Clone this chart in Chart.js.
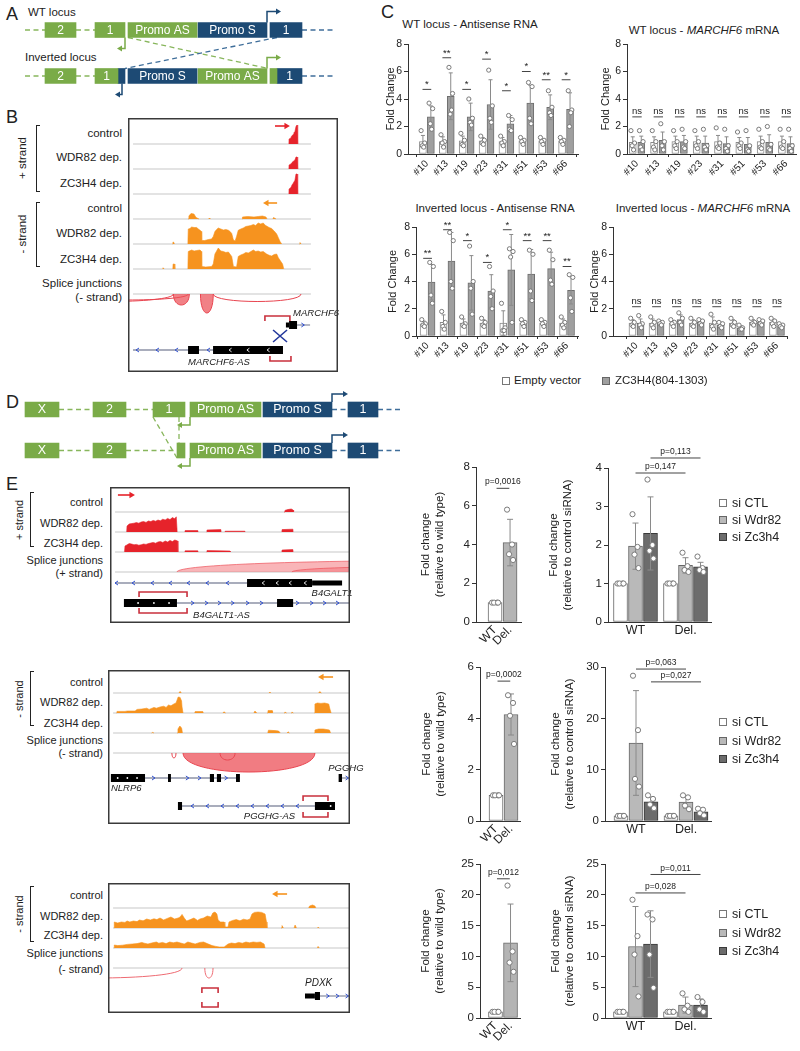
<!DOCTYPE html>
<html><head><meta charset="utf-8">
<script src="https://cdn.jsdelivr.net/npm/chart.js@4.4.1/dist/chart.umd.min.js"></script>
<style>
html,body{margin:0;padding:0;background:#fff;}
#page{position:relative;width:800px;height:1051px;overflow:hidden;background:#fff;font-family:"Liberation Sans",Arial,Helvetica,sans-serif;color:#222;}
#page canvas{position:absolute;}
.t{position:absolute;white-space:nowrap;line-height:1;}
.br{position:absolute;border:1.4px solid #222;border-right:none;width:4px;box-sizing:border-box;}
.sw{position:absolute;width:8px;height:8px;box-sizing:border-box;border:1px solid #666;}
</style></head>
<body><div id="page"></div>
<script>
// ======================= DATA =======================
// ---- Panel A / D schematics: [start, end, label, colour-key]
const A_WT_BOXES  = [[45,76,'2','g'],[95,125,'1','g'],[128,197,'Promo AS','g'],[198,267,'Promo S','b'],[270,302,'1','b']];
const A_INV_BOXES = [[45,76,'2','g'],[95,118,'1','g'],[118,125,'','b'],[128,197,'Promo S','b'],[198,267,'Promo AS','g'],[270,277,'','g'],[277,302,'1','b']];
const A_WT_DASH   = [[25,45,'g'],[76,95,'g'],[302,335,'b']];
const A_INV_DASH  = [[25,45,'g'],[76,95,'g'],[302,335,'b']];
const A_TSS       = [[267,0,-1,14,'b'],[125,0,1,-8,'g'],[267,1,-1,14,'g'],[122,1,1,-7,'b']];
const A_LINKS     = [[128,0,1,268,1,-1,'g'],[277,0,1,125,1,-1,'b']];
const D_R1_BOXES  = [[25,59,'X','g'],[93,126,'2','g'],[153,185,'1','g'],[190,261,'Promo AS','g'],[263,332,'Promo S','b'],[348,378,'1','b']];
const D_R2_BOXES  = [[25,59,'X','g'],[93,126,'2','g'],[177,185,'','g'],[190,261,'Promo AS','g'],[263,332,'Promo S','b'],[348,378,'1','b']];
const D_R1_DASH   = [[59,93,'g'],[126,153,'g'],[332,348,'b'],[378,400,'b']];
const D_R2_DASH   = [[59,93,'g'],[126,177,'g'],[332,348,'b'],[378,400,'b']];
const D_TSS       = [[332,0,-1,16,'b'],[190,0,1,-13,'g'],[332,1,-1,16,'b'],[190,1,1,-13,'g']];
const D_LINKS     = [[153,0,1,177,1,1,'g'],[179,0,1,179,1,-1,'g']];

// ---- Panel B browser (x 0-100 genomic, heights in track units)
const B_PLUS_CTRL = [[76.6,0],[76.7,0.2],[77.6,0.24],[77.8,0.3],[78.6,0.38],[79.0,0.45],[79.5,0.5],[80.0,0.7],[80.5,0.76],[80.8,0]];
const B_PLUS_WDR  = [[76.6,0],[76.7,0.16],[77.6,0.2],[78.1,0.26],[78.6,0.3],[79.5,0.36],[80.0,0.48],[80.5,0.48],[80.8,0]];
const B_PLUS_ZC   = [[76.6,0],[76.7,0.2],[77.6,0.26],[78.1,0.36],[78.6,0.42],[79.5,0.55],[80.0,0.8],[80.5,0.8],[80.8,0]];
const B_MIN_CTRL  = [[28.6,0],[29,0.12],[30,0.22],[31.4,0.2],[32.4,0.06],[33.8,0],[38.5,0],[38.6,0.04],[39,0],[54.3,0],[54.5,0.08],[57,0.1],[60,0.08],[62,0.1],[64,0.12],[65.7,0.08],[66.2,0],[69,0],[69.3,0.06],[70.5,0]];
const B_MIN_WDR   = [[21.2,0],[21.4,0.08],[21.9,0.06],[22.1,0],[28.5,0],[28.7,0.6],[29.5,0.62],[30.3,0.68],[31.5,0.66],[32.7,0.66],[33.5,0.6],[34.3,0.55],[35.0,0.5],[35.1,0.14],[36.5,0.14],[38.3,0.18],[39.8,0.2],[40.6,0.3],[41.4,0.5],[42.2,0.58],[43,0.64],[44.2,0.6],[45.4,0.56],[46.6,0.58],[47.8,0.55],[48.6,0.5],[49.4,0.42],[50.2,0.16],[51,0.12],[51.7,0.3],[52.5,0.55],[53.7,0.6],[54.9,0.64],[56.1,0.7],[57.3,0.72],[58.5,0.74],[59.7,0.78],[60.8,0.74],[62,0.84],[63.2,0.8],[64.4,0.84],[65.2,0.76],[66,0.72],[67.2,0.66],[68.4,0.62],[69.6,0.52],[70.8,0.4],[71.6,0.25],[72.4,0.1],[73.2,0],[81.6,0],[81.9,0.06],[82.4,0]];
const B_MIN_ZC    = [[16.5,0],[16.7,0.05],[17.2,0],[21.3,0],[21.5,0.2],[22.1,0.2],[22.3,0],[28.5,0],[28.7,0.7],[30.3,0.76],[31.5,0.72],[32.7,0.74],[34.3,0.76],[35.0,0.7],[35.1,0.1],[37,0.08],[39.8,0.1],[40.6,0.2],[41.4,0.6],[43,0.84],[44.2,0.72],[45.4,0.7],[46.6,0.66],[47.8,0.68],[49.4,0.5],[50.2,0.1],[51.7,0.08],[52.5,0.5],[53.7,0.56],[54.9,0.6],[56.1,0.66],[57.3,0.64],[58.5,0.7],[59.7,0.76],[60.8,0.7],[62,0.72],[63.2,0.68],[64.4,0.7],[66,0.6],[67.2,0.55],[68.4,0.52],[69.6,0.58],[70.8,0.6],[71.6,0.45],[72.4,0.35],[73.6,0.2],[74.2,0]];
const B_JUNCTIONS = [[-40,21.6,0.3,0],[-30,28.7,0.24,0],[21.6,29.2,0.44,1],[34.5,40.6,0.76,1],[40.6,82.4,0.3,0]];
const B_GENES = [
  {name:'MARCHF6', y:8.24, line:[80.5,86.7], exons:[[76.7,80.5]], utr:[[75.2,76.7]], arrows:[83.5], dir:1, chev:[], dots:[]},
  {name:'MARCHF6-AS', y:9.24, line:[2.4,73.8], exons:[[28.6,33.8],[40.5,73.8]], utr:[], arrows:[4.3,13.8,22.9,38.1], dir:-1, chev:[48.6,57.1,66.7], dots:[]}
];
const B_BRACKETS = [[65.2,77.1,7.88,'down'],[67.6,77.6,9.68,'up']];

// ---- Panel E browsers
const E1_CTRL = [[72.5,0],[72.9,0.08],[74,0.12],[75.5,0.15],[76.3,0.1],[76.5,0]];
const E1_WDR  = [[6.9,0],[7.1,0.3],[8,0.4],[9,0.42],[10,0.44],[11,0.47],[12,0.44],[13,0.5],[14,0.52],[15,0.48],[16,0.55],[17,0.52],[18,0.58],[19,0.54],[20,0.6],[21,0.56],[22,0.64],[23,0.6],[24,0.68],[25,0.62],[26,0.72],[27,0.66],[27.6,0.76],[27.9,0.76],[28,0],[31.2,0],[31.3,0.07],[36.6,0.07],[36.7,0],[40.3,0],[40.4,0.1],[46.2,0.12],[46.3,0],[47.9,0],[48,0.04],[56.2,0.04],[56.3,0],[71.6,0],[71.7,0.12],[76.2,0.14],[76.3,0]];
const E1_ZC   = [[6,0],[6.25,0.3],[7,0.35],[8,0.42],[9,0.4],[10,0.36],[11,0.38],[12,0.34],[13,0.36],[14,0.4],[15,0.38],[16,0.42],[17,0.45],[18,0.48],[19,0.44],[20,0.5],[21,0.52],[22,0.48],[23,0.55],[24,0.5],[25,0.58],[26,0.52],[27,0.6],[28.2,0.55],[28.3,0],[31.2,0],[31.3,0.06],[36.6,0.06],[36.7,0],[40.3,0],[40.4,0.07],[50,0.05],[50.1,0],[71.6,0],[71.7,0.1],[76.2,0.12],[76.3,0]];
const E1_JUNCTIONS = [[27.9,260,-0.58,1],[75.8,220,-0.3,1]];
const E1_GENES = [
  {name:'B4GALT1', y:4.55, line:[2.1,57.1], exons:[[57.1,84.2]], utr:[[84.2,96.7]], arrows:[2.5,9.6,17.5,25,32.5,40.4,48.8], dir:-1, chev:[63.8,69.6,75,81.3], dots:[]},
  {name:'B4GALT1-AS', y:5.55, line:[27.9,100], exons:[[5.8,27.9],[69.6,76.3]], utr:[], arrows:[34.6,40.4,45.8,51.3,57.5,63.3,78.3,84.2,89.6,95], dir:1, chev:[], dots:[11.7,18.3,24.6]}
];
const E1_BRACKETS = [[12.1,32.1,5.0,'down'],[12.1,32.1,6.05,'up']];

const E2_CTRL = [[29.3,0],[29.8,0.08],[30.3,0],[66.5,0],[66.9,0.05],[67.3,0],[87,0],[87.5,0.07],[88.2,0]];
const E2_WDR  = [[3.5,0],[3.7,0.08],[7,0.08],[8,0.1],[11.2,0.1],[12,0.18],[14,0.2],[16,0.24],[17,0.18],[19,0.28],[20,0.24],[21.5,0.3],[23,0.34],[24,0.28],[25,0.4],[26,0.36],[27.2,0.45],[28.1,0.5],[29,0.8],[29.8,0.78],[30.4,0.6],[30.6,0.3],[31,0],[35.8,0],[36,0.07],[39.2,0.07],[39.4,0],[47.5,0],[47.9,0.06],[48.6,0],[60.3,0],[60.7,0.1],[61.5,0],[65.8,0],[66.1,0.12],[67.8,0.12],[68,0],[72.8,0],[73.1,0.05],[73.8,0],[75.7,0],[76,0.05],[76.6,0],[85.3,0],[85.5,0.45],[86.5,0.5],[88,0.48],[89.5,0.5],[91.2,0.45],[91.7,0.2],[92.2,0]];
const E2_ZC   = [[18,0],[18.3,0.03],[19,0],[28.6,0],[28.9,0.2],[29.7,0.35],[30.4,0.25],[30.8,0],[66,0],[66.3,0.14],[69,0.12],[70.5,0.1],[71.2,0],[74,0],[74.4,0.06],[75,0],[85.3,0],[85.5,0.15],[87,0.2],[89,0.2],[91.5,0.15],[92,0]];
const E2_JUNCTIONS = [[31,85.5,0.95,1],[46.3,52.5,0.35,0],[26.4,28.1,0.25,0]];
const E2_GENES = [
  {name:'NLRP6', y:5.25, line:[15.3,54.5], exons:[[1.2,15.3],[24.8,26],[42.1,43.8],[45,46.7],[52.9,54.5]], utr:[], arrows:[19,33,38,49], dir:1, chev:[], dots:[4,8,12]},
  {name:'PGGHG', y:5.25, line:[96.5,100], exons:[[95.3,96.7]], utr:[], arrows:[99], dir:1, chev:[], dots:[]},
  {name:'PGGHG-AS', y:6.65, line:[30.6,85.5], exons:[[28.9,30.6],[85.5,93.8]], utr:[], arrows:[34.7,40.9,47.1,53.3,59.5,65.7,71.9,78.1], dir:-1, chev:[], dots:[92]}
];
const E2_BRACKETS = [[80.6,90.9,6.15,'down'],[80.6,90.9,7.2,'up']];

const E3_CTRL = [[82.9,0],[83.3,0.1],[84.5,0.15],[85.5,0.1],[85.9,0]];
const E3_WDR  = [[2.5,0],[2.6,0.3],[4,0.25],[5.5,0.3],[7,0.28],[7.9,0.35],[9,0.3],[10.5,0.35],[12,0.32],[13,0.4],[14.5,0.36],[16,0.45],[17.5,0.4],[19,0.46],[20.2,0.42],[21.5,0.5],[23,0.4],[24.5,0.48],[26,0.55],[27.5,0.45],[29,0.5],[29.8,0.55],[30.6,0.68],[31.5,0.5],[32.5,0.35],[34,0.42],[35.5,0.5],[37,0.38],[38,0.45],[39.5,0.5],[41,0.6],[42.5,0.55],[43.3,0.75],[44.2,0.8],[45,0.7],[45.5,0.4],[46.5,0.3],[48,0.3],[48.3,0.05],[49.6,0.05],[50,0.3],[51.5,0.38],[53,0.42],[54.5,0.36],[56,0.44],[57.5,0.4],[58.7,0.45],[59.5,0.7],[60.5,0.78],[62,0.8],[63.5,0.78],[64.9,0.7],[65.5,0.3],[65.7,0],[71.5,0],[71.9,0.12],[72.5,0],[76.9,0],[77.3,0.15],[77.9,0],[86.5,0],[86.8,0.04],[87.3,0]];
const E3_ZC   = [[2.5,0],[2.6,0.15],[4,0.12],[6,0.14],[8,0.18],[10,0.2],[12,0.22],[14,0.28],[15,0.24],[16.5,0.2],[18,0.25],[20,0.3],[21,0.24],[22.5,0.28],[24,0.22],[25.5,0.3],[27,0.26],[28.5,0.3],[30,0.25],[31.5,0.2],[33,0.3],[34.5,0.25],[36,0.2],[38,0.28],[39.5,0.3],[41,0.22],[43,0.12],[44.6,0.08],[46,0.05],[48,0.05],[49.6,0.2],[51,0.25],[52.5,0.22],[54,0.28],[55.5,0.24],[57,0.3],[58.5,0.26],[60,0.3],[61.5,0.28],[63,0.3],[64.5,0.2],[64.9,0],[86.5,0],[86.8,0.08],[87.3,0]];
const E3_JUNCTIONS = [[-40,30.6,0.5,0],[40,43.4,0.5,0]];
const E3_GENES = [
  {name:'PDXK', y:5.4, line:[87.6,100], exons:[[85.5,87.6]], utr:[[81.4,85.5]], arrows:[91,95,99], dir:1, chev:[], dots:[]}
];
const E3_BRACKETS = [[38.8,45.5,5.0,'down'],[38.8,45.5,5.95,'up']];

// ---- Panel C bar charts
const C_CLONES = ['#10','#13','#19','#23','#31','#51','#53','#66'];
const WT_AS_EV_MEAN = [0.9,0.9,0.95,0.95,0.9,0.95,0.95,0.95];
const WT_AS_EV_SD   = [0.45,0.35,0.35,0.25,0.3,0.15,0.15,0.15];
const WT_AS_EV_PTS  = [[1.7,0.8,0.6,0.5],[1.4,0.9,0.8,0.5],[1.5,1.0,0.7,0.6],[1.3,1.0,0.8,0.7],[1.3,0.9,0.8,0.6],[1.2,1.0,0.9,0.7],[1.2,1.0,0.9,0.7],[1.2,1.0,0.9,0.7]];
const WT_AS_ZC_MEAN = [2.7,4.2,2.7,3.6,2.2,3.7,3.4,3.25];
const WT_AS_ZC_SD   = [0.8,1.7,1.0,1.8,0.6,1.3,0.9,1.2];
const WT_AS_ZC_PTS  = [[3.7,3.3,2.2,1.8],[6.3,4.4,2.9,3.2],[4.0,2.6,2.3,2.1],[6.1,3.5,2.6,2.3],[2.8,2.5,1.8,1.7],[5.2,4.9,2.6,2.2],[4.6,3.4,3.0,2.8],[4.6,3.2,2.0,3.0]];
const WT_AS_SIG     = ['*','**','*','*','*','*','**','*'];
const WT_AS_SIG_Y   = [4.7,7.0,4.7,6.9,4.6,6.0,5.4,5.4];

const WT_M_EV_MEAN = [0.85,0.85,0.9,0.9,0.9,0.85,0.9,0.9];
const WT_M_EV_SD   = [0.4,0.4,0.4,0.4,0.45,0.35,0.4,0.4];
const WT_M_EV_PTS  = [[1.7,0.8,0.6,0.3],[1.7,0.9,0.5,0.3],[1.7,0.9,0.6,0.4],[1.7,0.9,0.6,0.4],[1.9,0.8,0.5,0.4],[1.6,0.8,0.6,0.4],[1.8,0.9,0.5,0.4],[1.8,0.9,0.5,0.4]];
const WT_M_ZC_MEAN = [0.85,1.0,0.9,0.8,0.75,0.7,0.85,0.75];
const WT_M_ZC_SD   = [0.45,0.6,0.45,0.5,0.5,0.5,0.55,0.5];
const WT_M_ZC_PTS  = [[1.7,0.9,0.5,0.3],[2.2,0.9,0.6,0.3],[1.8,0.9,0.5,0.4],[1.8,0.6,0.5,0.3],[1.8,0.6,0.4,0.2],[1.7,0.6,0.3,0.2],[2.0,0.7,0.4,0.3],[1.8,0.6,0.4,0.2]];
const WT_M_SIG     = ['ns','ns','ns','ns','ns','ns','ns','ns'];
const WT_M_SIG_Y   = [2.7,2.7,2.7,2.7,2.7,2.7,2.7,2.7];

const INV_AS_EV_MEAN = [0.9,1.0,0.95,0.95,0.95,0.95,0.95,0.95];
const INV_AS_EV_SD   = [0.2,0.55,0.3,0.25,0.9,0.2,0.2,0.3];
const INV_AS_EV_PTS  = [[1.2,0.9,0.8,0.7],[1.8,1.0,0.7,0.5],[1.4,0.9,0.8,0.7],[1.3,1.0,0.8,0.7],[2.4,0.6,0.4,0.4],[1.2,1.0,0.9,0.7],[1.2,1.0,0.9,0.7],[1.4,1.0,0.8,0.6]];
const INV_AS_ZC_MEAN = [3.95,5.5,3.9,3.3,4.85,4.55,4.95,3.35];
const INV_AS_ZC_SD   = [1.3,2.1,2.0,1.2,2.6,1.8,1.2,1.0];
const INV_AS_ZC_PTS  = [[5.4,5.1,3.0,2.4],[7.6,7.0,4.0,3.5],[6.6,4.0,3.5,1.6],[5.1,3.3,2.9,2.0],[6.4,6.2,5.8,1.0],[6.3,6.0,3.3,2.6],[6.3,5.6,4.1,3.8],[4.5,4.3,2.8,1.8]];
const INV_AS_SIG     = ['**','**','*','*','*','**','**','**'];
const INV_AS_SIG_Y   = [5.7,7.8,7.0,5.4,7.8,7.0,7.0,5.1];

const INV_M_EV_MEAN = [0.95,0.95,0.95,0.95,0.95,0.95,1.0,1.0];
const INV_M_EV_SD   = [0.25,0.3,0.2,0.25,0.45,0.25,0.2,0.25];
const INV_M_EV_PTS  = [[1.3,1.0,0.8,0.7],[1.4,1.0,0.8,0.6],[1.2,1.0,0.9,0.7],[1.3,1.0,0.8,0.7],[1.6,1.0,0.7,0.5],[1.3,1.0,0.8,0.7],[1.3,1.0,0.9,0.8],[1.3,1.1,0.9,0.7]];
const INV_M_ZC_MEAN = [0.95,0.95,1.2,1.0,0.8,0.6,1.0,0.75];
const INV_M_ZC_SD   = [0.3,0.15,0.35,0.2,0.2,0.15,0.2,0.15];
const INV_M_ZC_PTS  = [[1.5,0.9,0.8,0.6],[1.1,1.0,0.9,0.8],[1.7,1.3,1.0,0.8],[1.2,1.1,0.9,0.8],[1.0,0.9,0.7,0.6],[0.8,0.6,0.5,0.5],[1.2,1.1,0.9,0.8],[0.9,0.8,0.7,0.6]];
const INV_M_SIG     = ['ns','ns','ns','ns','ns','ns','ns','ns'];
const INV_M_SIG_Y   = [2.15,2.15,2.15,2.15,2.15,2.15,2.15,2.15];

// ---- Panel E bar charts
const E_LEFT_CATS  = ['WT','Del.'];
const E_RIGHT_CATS = ['WT','Del.'];
const E1_DEL_MEAN = [1.0,4.1];   const E1_DEL_SD = [0.03,1.2];  const E1_DEL_PTS = [[1,1,1,1],[5.8,4.0,3.5,3.2]];
const E1_CTL_MEAN = [1.0,1.0];   const E1_CTL_SD = [0,0];       const E1_CTL_PTS = [[1,1,1,1],[1,1,1,1]];
const E1_WDR_MEAN = [1.97,1.47]; const E1_WDR_SD = [0.6,0.2];   const E1_WDR_PTS = [[2.8,1.95,1.75,1.4],[1.8,1.45,1.35,1.3]];
const E1_ZC_MEAN  = [2.3,1.43];  const E1_ZC_SD  = [0.95,0.12]; const E1_ZC_PTS  = [[3.7,2.0,1.85,1.65],[1.7,1.4,1.35,1.3]];
const E1_P_LEFT  = [[0.1,0.95,6.9,'p=0,0016']];
const E1_P_RIGHT = [[0,1,3.87,'p=0,147'],[0.3,1.3,4.26,'p=0,113']];

const E2_DEL_MEAN = [1.0,4.15];  const E2_DEL_SD = [0.03,0.8];  const E2_DEL_PTS = [[1,1,1,1],[4.9,4.6,4.1,3.0]];
const E2_CTL_MEAN = [1.0,1.0];   const E2_CTL_SD = [0,0];       const E2_CTL_PTS = [[1,1,1,1],[1,1,1,1]];
const E2_WDR_MEAN = [15.2,3.7];  const E2_WDR_SD = [10.2,1.2];  const E2_WDR_PTS = [[28.3,17.7,8.2,6.7],[5.0,4.6,3.0,2.3]];
const E2_ZC_MEAN  = [3.75,1.8];  const E2_ZC_SD  = [0.9,0.5];   const E2_ZC_PTS  = [[5.0,4.3,3.2,2.5],[2.4,2.2,1.5,1.1]];
const E2_P_LEFT  = [[0.1,0.95,5.45,'p=0,0002']];
const E2_P_RIGHT = [[0,1,29.6,'p=0,063'],[0.3,1.3,27.1,'p=0,027']];

const E3_DEL_MEAN = [1.0,12.2];  const E3_DEL_SD = [0.05,6.3];  const E3_DEL_PTS = [[1,1,1,1],[21.5,10.8,9.0,7.5]];
const E3_CTL_MEAN = [1.0,1.0];   const E3_CTL_SD = [0,0];       const E3_CTL_PTS = [[1,1,1,1],[1,1,1,1]];
const E3_WDR_MEAN = [11.6,2.1];  const E3_WDR_SD = [6.5,1.3];   const E3_WDR_PTS = [[19.2,13.3,10.3,3.5],[4.0,2.0,1.4,1.0]];
const E3_ZC_MEAN  = [12.0,2.1];  const E3_ZC_SD  = [5.4,1.0];   const E3_ZC_PTS  = [[16.8,16.0,10.3,4.9],[3.4,2.6,1.4,1.0]];
const E3_P_LEFT  = [[0.1,0.95,22.6,'p=0,012']];
const E3_P_RIGHT = [[0.3,1.3,23.3,'p=0,011'],[0,1,20.3,'p=0,028']];

// ======================= STYLE / HELPERS =======================
const FONT = '"Liberation Sans", Arial, Helvetica, sans-serif';
Chart.defaults.font.family = FONT;
Chart.defaults.color = '#222';
const GREEN = '#7aab48', BLUE = '#1d4a74', GDASH = '#88b65c', BDASH = '#3f6e9a';
const RED = '#e6232b', ORANGE = '#f6931f';
const SCOL = {g: GREEN, b: BLUE}, DCOL = {g: GDASH, b: BDASH};
const page = document.getElementById('page');

function canvasAt(l, t, w, h) {
  const c = document.createElement('canvas');
  c.width = Math.round(w); c.height = Math.round(h);
  c.style.left = l + 'px'; c.style.top = t + 'px';
  c.style.width = Math.round(w) + 'px'; c.style.height = Math.round(h) + 'px';
  page.appendChild(c); return c;
}
function txt(s, x, y, o = {}) {
  const d = document.createElement('div');
  d.className = 't'; d.innerHTML = s;
  d.style.fontSize = (o.size || 11) + 'px';
  if (o.italic) d.style.fontStyle = 'italic';
  if (o.color) d.style.color = o.color;
  d.style.left = x + 'px'; d.style.top = y + 'px';
  let tx = '0';
  if (o.align === 'right') tx = '-100%'; else if (o.align === 'center') tx = '-50%';
  d.style.transform = o.rot ? `translate(-50%,-50%) rotate(${o.rot}deg)` : `translate(${tx},-50%)`;
  page.appendChild(d);
}
function bracket(l, t, h) {
  const d = document.createElement('div'); d.className = 'br';
  d.style.left = l + 'px'; d.style.top = t + 'px'; d.style.height = h + 'px';
  page.appendChild(d);
}
function swatch(x, y, fill, border) {
  const d = document.createElement('div'); d.className = 'sw';
  d.style.left = x + 'px'; d.style.top = (y - 4) + 'px'; d.style.background = fill; d.style.borderColor = border;
  page.appendChild(d);
}
const baseOpts = () => ({responsive: false, animation: false, events: [], maintainAspectRatio: false});

// ---------- schematic plugin ----------
const schemPlugin = {
  id: 'schem',
  beforeDatasetsDraw(chart) {
    const o = chart.options.plugins.schem, ctx = chart.ctx;
    const X = v => chart.scales.x.getPixelForValue(v), Y = r => chart.scales.y.getPixelForValue(r);
    ctx.save(); ctx.lineWidth = 1.6; ctx.setLineDash([5, 3.5]);
    o.rows.forEach((row, r) => row.dashes.forEach(([s, e, c]) => {
      ctx.strokeStyle = DCOL[c]; ctx.beginPath(); ctx.moveTo(X(s), Y(r)); ctx.lineTo(X(e), Y(r)); ctx.stroke();
    }));
    const hh = o.boxH / 2;
    o.links.forEach(([x1, r1, s1, x2, r2, s2, c]) => {
      ctx.strokeStyle = DCOL[c]; ctx.lineWidth = 1.3;
      ctx.beginPath(); ctx.moveTo(X(x1), Y(r1) + s1 * hh); ctx.lineTo(X(x2), Y(r2) + s2 * hh); ctx.stroke();
    });
    ctx.restore();
  },
  afterDatasetsDraw(chart) {
    const o = chart.options.plugins.schem, ctx = chart.ctx;
    const X = v => chart.scales.x.getPixelForValue(v), Y = r => chart.scales.y.getPixelForValue(r);
    const hh = o.boxH / 2;
    ctx.save();
    ctx.fillStyle = '#fff'; ctx.font = o.font + 'px ' + FONT; ctx.textAlign = 'center'; ctx.textBaseline = 'middle';
    o.rows.forEach((row, r) => row.boxes.forEach(([s, e, l]) => { if (l) ctx.fillText(l, (X(s) + X(e)) / 2, Y(r) + 0.5); }));
    o.tss.forEach(([x, r, v, hl, c]) => {
      const col = SCOL[c]; ctx.strokeStyle = col; ctx.fillStyle = col; ctx.lineWidth = 1.5;
      const y0 = Y(r) + v * hh, y1 = y0 + v * o.arm, x0 = X(x), x1 = X(x + hl);
      ctx.beginPath(); ctx.moveTo(x0, y0); ctx.lineTo(x0, y1); ctx.lineTo(x1 - Math.sign(hl) * 3, y1); ctx.stroke();
      ctx.beginPath(); ctx.moveTo(x1, y1); ctx.lineTo(x1 - Math.sign(hl) * 5, y1 - 3); ctx.lineTo(x1 - Math.sign(hl) * 5, y1 + 3); ctx.closePath(); ctx.fill();
    });
    ctx.restore();
  }
};
function makeSchematic(area, cfg) {
  const c = canvasAt(area.l, area.t, area.w, area.h);
  const datasets = [];
  cfg.rows.forEach((row, r) => row.boxes.forEach(b => {
    datasets.push({type: 'bar', data: cfg.rows.map((_, k) => k === r ? [b[0], b[1]] : null),
      backgroundColor: SCOL[b[3]], borderWidth: 0, barThickness: cfg.boxH, grouped: false});
  }));
  new Chart(c, {type: 'bar', data: {labels: cfg.rows.map((_, i) => 'r' + i), datasets},
    options: Object.assign(baseOpts(), {indexAxis: 'y', layout: {padding: 0},
      scales: {x: {type: 'linear', display: false, min: 0, max: area.w}, y: {type: 'category', display: false, offset: true}},
      plugins: {legend: {display: false}, tooltip: {enabled: false}, schem: cfg}}),
    plugins: [schemPlugin]});
}

// ---------- genome browser plugin ----------
const browserPlugin = {
  id: 'browser',
  beforeDatasetsDraw(chart) {
    const o = chart.options.plugins.browser, ctx = chart.ctx;
    const X = v => chart.scales.x.getPixelForValue(v), Y = v => chart.scales.y.getPixelForValue(v);
    ctx.save(); ctx.strokeStyle = '#dadada'; ctx.lineWidth = 1.6;
    o.baselines.forEach(b => { ctx.beginPath(); ctx.moveTo(X(o.x0), Y(b)); ctx.lineTo(X(o.x1), Y(b)); ctx.stroke(); });
    ctx.restore();
  },
  afterDatasetsDraw(chart) {
    const o = chart.options.plugins.browser, ctx = chart.ctx, a = chart.chartArea;
    const X = v => chart.scales.x.getPixelForValue(v), Y = v => chart.scales.y.getPixelForValue(v);
    ctx.save();
    ctx.beginPath(); ctx.rect(a.left, a.top, a.right - a.left, a.bottom - a.top); ctx.clip();
    // splice junction arcs
    const yb = Y(o.spliceBase);
    o.arcs.forEach(([s, e, d, f]) => {
      const k = yb + (Y(o.spliceBase + d) - yb) * 4 / 3;
      ctx.beginPath(); ctx.moveTo(X(s), yb); ctx.bezierCurveTo(X(s), k, X(e), k, X(e), yb);
      if (f) { ctx.fillStyle = o.arcFill; ctx.fill(); }
      ctx.strokeStyle = o.arcLine; ctx.lineWidth = 1; ctx.stroke();
    });
    // genes
    o.genes.forEach(g => {
      const y = Y(g.y);
      ctx.strokeStyle = '#8d92a6'; ctx.lineWidth = 1.3;
      ctx.beginPath(); ctx.moveTo(X(g.line[0]), y); ctx.lineTo(X(g.line[1]), y); ctx.stroke();
      ctx.strokeStyle = '#2f4fd0'; ctx.lineWidth = 1;
      g.arrows.forEach(p => { const x = X(p); ctx.beginPath(); ctx.moveTo(x - g.dir * 2, y - 2); ctx.lineTo(x + g.dir * 1, y); ctx.lineTo(x - g.dir * 2, y + 2); ctx.stroke(); });
      ctx.fillStyle = '#000';
      g.utr.forEach(([s, e]) => ctx.fillRect(X(s), y - 2.5, X(e) - X(s), 5));
      g.exons.forEach(([s, e]) => ctx.fillRect(X(s), y - 4, X(e) - X(s), 8));
      ctx.strokeStyle = '#fff'; ctx.lineWidth = 0.9;
      g.chev.forEach(p => { const x = X(p); ctx.beginPath(); ctx.moveTo(x - g.dir * 1.5, y - 1.8); ctx.lineTo(x + g.dir * 1, y); ctx.lineTo(x - g.dir * 1.5, y + 1.8); ctx.stroke(); });
      ctx.fillStyle = '#fff';
      g.dots.forEach(p => { ctx.beginPath(); ctx.arc(X(p), y, 0.9, 0, Math.PI * 2); ctx.fill(); });
    });
    // brackets
    ctx.strokeStyle = '#c9303d'; ctx.lineWidth = 1.6;
    o.brackets.forEach(([s, e, yv, open]) => {
      const y = Y(yv), t = open === 'down' ? 5 : -5;
      ctx.beginPath(); ctx.moveTo(X(s), y + t); ctx.lineTo(X(s), y); ctx.lineTo(X(e), y); ctx.lineTo(X(e), y + t); ctx.stroke();
    });
    // deletion cross
    ctx.strokeStyle = '#23389c'; ctx.lineWidth = 1.6;
    o.crosses.forEach(([xv, yv]) => { const x = X(xv), y = Y(yv);
      ctx.beginPath(); ctx.moveTo(x - 7, y - 6); ctx.lineTo(x + 7, y + 6); ctx.moveTo(x + 7, y - 6); ctx.lineTo(x - 7, y + 6); ctx.stroke(); });
    // direction arrows
    o.arrows.forEach(([x1v, x2v, yv, col]) => {
      const x1 = X(x1v), x2 = X(x2v), y = Y(yv), sg = Math.sign(x2 - x1);
      ctx.strokeStyle = col; ctx.fillStyle = col; ctx.lineWidth = 1.6;
      ctx.beginPath(); ctx.moveTo(x1, y); ctx.lineTo(x2 - sg * 3, y); ctx.stroke();
      ctx.beginPath(); ctx.moveTo(x2, y); ctx.lineTo(x2 - sg * 5.5, y - 3.2); ctx.lineTo(x2 - sg * 5.5, y + 3.2); ctx.closePath(); ctx.fill();
    });
    ctx.restore();
    // gene names (may run past the frame edge)
    ctx.save();
    ctx.fillStyle = '#222'; ctx.font = 'italic ' + o.labelSize + 'px ' + FONT; ctx.textBaseline = 'middle';
    o.labels.forEach(([s, xv, yv, al]) => { ctx.textAlign = al || 'left'; ctx.fillText(s, X(xv), Y(yv)); });
    // frame
    ctx.strokeStyle = '#3a3a3a'; ctx.lineWidth = 1.5;
    ctx.strokeRect(a.left + 0.75, a.top + 0.75, a.right - a.left - 1.5, a.bottom - a.top - 1.5);
    ctx.restore();
  }
};
function makeBrowser(f, cfg) {
  const extra = 14;
  const c = canvasAt(f.l, f.t, f.r - f.l + extra, f.b - f.t);
  const datasets = cfg.tracks.map(tr => ({
    type: 'line', data: tr.sig.map(p => ({x: p[0], y: tr.base - p[1]})),
    fill: {value: tr.base}, backgroundColor: tr.color, borderColor: tr.color, borderWidth: 0.6, pointRadius: 0, tension: 0,
    segment: {borderColor: s => (s.p0.parsed.y === tr.base && s.p1.parsed.y === tr.base) ? 'rgba(0,0,0,0)' : undefined}
  }));
  new Chart(c, {type: 'line', data: {datasets},
    options: Object.assign(baseOpts(), {layout: {padding: {left: 0, top: 0, bottom: 0, right: extra}},
      scales: {x: {type: 'linear', display: false, min: 0, max: 100}, y: {type: 'linear', display: false, reverse: true, min: cfg.yMin, max: cfg.yMax}},
      plugins: {legend: {display: false}, tooltip: {enabled: false}, browser: cfg}}),
    plugins: [browserPlugin]});
}

// ---------- bar chart plugin ----------
const barExtras = {
  id: 'barExtras',
  afterDatasetsDraw(chart) {
    const o = chart.options.plugins.barExtras, ctx = chart.ctx, xs = chart.scales.x, ys = chart.scales.y;
    ctx.save();
    o.series.forEach(s => s.mean.forEach((m, i) => {
      const px = xs.getPixelForValue(o.groupX[i] + s.off);
      const sd = s.sd[i];
      if (sd > 0) {
        const yt = ys.getPixelForValue(m + sd), ybm = ys.getPixelForValue(Math.max(0, m - sd));
        ctx.strokeStyle = o.errColor; ctx.lineWidth = 1;
        ctx.beginPath(); ctx.moveTo(px, yt); ctx.lineTo(px, ybm);
        ctx.moveTo(px - o.cap, yt); ctx.lineTo(px + o.cap, yt);
        ctx.moveTo(px - o.cap, ybm); ctx.lineTo(px + o.cap, ybm); ctx.stroke();
      }
      s.pts[i].forEach((v, k) => {
        ctx.beginPath(); ctx.arc(px + o.jit[k % o.jit.length], ys.getPixelForValue(v), o.r, 0, Math.PI * 2);
        ctx.fillStyle = '#fff'; ctx.fill(); ctx.strokeStyle = o.ptColor; ctx.lineWidth = 1; ctx.stroke();
      });
    }));
    o.sig.forEach(([a1, a2, yv, t]) => {
      const x1 = xs.getPixelForValue(a1), x2 = xs.getPixelForValue(a2), y = ys.getPixelForValue(yv);
      ctx.strokeStyle = '#444'; ctx.lineWidth = 1;
      ctx.beginPath(); ctx.moveTo(x1, y); ctx.lineTo(x2, y); ctx.stroke();
      ctx.fillStyle = '#222'; ctx.font = o.sigFont + 'px ' + FONT; ctx.textAlign = 'center'; ctx.textBaseline = 'bottom';
      ctx.fillText(t, (x1 + x2) / 2, y - o.sigGap);
    });
    ctx.restore();
  }
};
function makeBar(g, cfg) {
  const padTop = cfg.padTop || 12, padRight = cfg.padRight || 14;
  const w = cfg.yw + (g.right - g.ax) + padRight;
  const h = padTop + (g.yZero - g.yTop) + cfg.xh;
  const c = canvasAt(g.ax - cfg.yw, g.yTop - padTop, w, h);
  const datasets = cfg.series.map(s => ({
    type: 'bar', data: s.mean.map((m, i) => ({x: cfg.groupX[i] + s.off, y: m})),
    backgroundColor: s.fill, borderColor: s.stroke, borderWidth: 1, borderSkipped: false,
    barThickness: cfg.barW, grouped: false
  }));
  const tickFont = {size: cfg.tickSize};
  new Chart(c, {type: 'bar', data: {datasets},
    options: Object.assign(baseOpts(), {
      layout: {padding: {top: padTop, right: padRight, left: 0, bottom: 0}},
      scales: {
        x: {type: 'linear', min: cfg.xMin, max: cfg.xMax, offset: false, bounds: 'data',
          afterBuildTicks: s => { s.ticks = cfg.groupX.map(v => ({value: v})); },
          afterFit: s => { s.height = cfg.xh; },
          ticks: {autoSkip: false, minRotation: cfg.rot, maxRotation: cfg.rot, font: {size: cfg.xSize}, color: '#222', padding: 1,
            callback: (v, i) => cfg.labels[i]},
          grid: {display: true, drawOnChartArea: false, drawTicks: cfg.xTicks, tickLength: 3, color: '#333'},
          border: {display: true, color: '#333', width: 1}},
        y: {type: 'linear', min: 0, max: cfg.yMax,
          afterFit: s => { s.width = cfg.yw; },
          ticks: {stepSize: cfg.yStep, font: tickFont, color: '#222', padding: 2},
          grid: {display: true, drawOnChartArea: false, drawTicks: true, tickLength: 4, color: '#333'},
          border: {display: true, color: '#333', width: 1},
          title: {display: true, text: cfg.yTitle, font: {size: cfg.titleSize}, color: '#222', padding: {top: 0, bottom: 0}}}
      },
      plugins: {legend: {display: false}, tooltip: {enabled: false},
        barExtras: {series: cfg.series, groupX: cfg.groupX, errColor: '#8a8a8a', cap: cfg.cap, jit: cfg.jit, r: cfg.r, ptColor: '#7a7a7a',
          sig: cfg.sig, sigFont: cfg.sigFont, sigGap: cfg.sigGap}}
    }),
    plugins: [barExtras]});
}

// ======================= PANEL A =======================
txt('A', 6, 14, {size: 18});
txt('WT locus', 28, 13, {size: 11.5});
txt('Inverted locus', 25, 58, {size: 11.5});
makeSchematic({l: 0, t: 7, w: 340, h: 92}, {boxH: 15, font: 12, arm: 11,
  rows: [{boxes: A_WT_BOXES, dashes: A_WT_DASH}, {boxes: A_INV_BOXES, dashes: A_INV_DASH}],
  tss: A_TSS, links: A_LINKS});

// ======================= PANEL D =======================
txt('D', 6, 402, {size: 18});
makeSchematic({l: 0, t: 389, w: 410, h: 82}, {boxH: 15, font: 12.5, arm: 8,
  rows: [{boxes: D_R1_BOXES, dashes: D_R1_DASH}, {boxes: D_R2_BOXES, dashes: D_R2_DASH}],
  tss: D_TSS, links: D_LINKS});

// ======================= PANEL B =======================
txt('B', 6, 117, {size: 18});
bracket(36, 125, 67); txt('+ strand', 23, 158, {size: 11.5, rot: -90});
bracket(36, 202, 65); txt('- strand', 23, 234, {size: 11.5, rot: -90});
[['control',134],['WDR82 dep.',158],['ZC3H4 dep.',184],['control',209],['WDR82 dep.',234],['ZC3H4 dep.',260],['Splice junctions',284],['(- strand)',298]]
  .forEach(([s, y]) => txt(s, 122, y, {size: 11.5, align: 'right'}));
makeBrowser({l: 128, t: 118, r: 338, b: 372}, {
  yMin: -0.04, yMax: 10.12, x0: 2.4, x1: 87.1, baselines: [1, 2, 3, 4, 5, 6, 7], spliceBase: 7,
  tracks: [{base: 1, sig: B_PLUS_CTRL, color: RED}, {base: 2, sig: B_PLUS_WDR, color: RED}, {base: 3, sig: B_PLUS_ZC, color: RED},
           {base: 4, sig: B_MIN_CTRL, color: ORANGE}, {base: 5, sig: B_MIN_WDR, color: ORANGE}, {base: 6, sig: B_MIN_ZC, color: ORANGE}],
  arcs: B_JUNCTIONS, arcFill: 'rgba(236,80,88,0.72)', arcLine: '#e8444f',
  genes: B_GENES, brackets: B_BRACKETS, crosses: [[72.4, 8.68]],
  arrows: [[70, 77.1, 0.28, RED], [71, 64.3, 3.36, ORANGE]],
  labels: [['MARCHF6', 78.6, 7.76], ['MARCHF6-AS', 28.6, 9.72]], labelSize: 9.5
});

// ======================= PANEL C =======================
txt('C', 381, 12, {size: 18});
const C_X = C_CLONES.map((_, i) => i);
const cSig = (t, y) => t.map((s, i) => [i - 0.22, i + 0.22, y[i], s]);
const cBase = {groupX: C_X, labels: C_CLONES, barW: 7, yMax: 8, yStep: 2, yTitle: 'Fold Change', titleSize: 11, tickSize: 10.5,
  xSize: 10, rot: 45, xTicks: true, xh: 26, cap: 2, jit: [-1.8, 1.8, -0.6, 0.8], r: 2.1, sigFont: 9.5, sigGap: 0};
const cSeries = (evM, evS, evP, zM, zS, zP) => [
  {mean: evM, sd: evS, pts: evP, off: -0.2, fill: '#ffffff', stroke: '#8a8a8a'},
  {mean: zM, sd: zS, pts: zP, off: 0.2, fill: '#9f9f9f', stroke: '#6e6e6e'}];
txt('WT locus - Antisense RNA', 470, 25, {size: 11.5, align: 'center'});
makeBar({ax: 408, right: 578, yTop: 44, yZero: 154}, Object.assign({}, cBase, {yw: 24, xMin: -0.95, xMax: 7.6,
  series: cSeries(WT_AS_EV_MEAN, WT_AS_EV_SD, WT_AS_EV_PTS, WT_AS_ZC_MEAN, WT_AS_ZC_SD, WT_AS_ZC_PTS), sig: cSig(WT_AS_SIG, WT_AS_SIG_Y)}));
txt('WT locus - <i>MARCHF6</i> mRNA', 704, 31, {size: 11.5, align: 'center'});
makeBar({ax: 627, right: 796, yTop: 44, yZero: 154}, Object.assign({}, cBase, {yw: 28, xMin: -0.47, xMax: 7.46,
  series: cSeries(WT_M_EV_MEAN, WT_M_EV_SD, WT_M_EV_PTS, WT_M_ZC_MEAN, WT_M_ZC_SD, WT_M_ZC_PTS), sig: cSig(WT_M_SIG, WT_M_SIG_Y), sigGap: 1}));
txt('Inverted locus - Antisense RNA', 495, 209, {size: 11.5, align: 'center'});
makeBar({ax: 416, right: 578, yTop: 227, yZero: 336}, Object.assign({}, cBase, {yw: 30, xMin: -0.58, xMax: 7.55,
  series: cSeries(INV_AS_EV_MEAN, INV_AS_EV_SD, INV_AS_EV_PTS, INV_AS_ZC_MEAN, INV_AS_ZC_SD, INV_AS_ZC_PTS), sig: cSig(INV_AS_SIG, INV_AS_SIG_Y)}));
txt('Inverted locus - <i>MARCHF6</i> mRNA', 703, 209, {size: 11.5, align: 'center'});
makeBar({ax: 613, right: 787, yTop: 227, yZero: 336}, Object.assign({}, cBase, {yw: 25, xMin: -1.17, xMax: 7.5,
  series: cSeries(INV_M_EV_MEAN, INV_M_EV_SD, INV_M_EV_PTS, INV_M_ZC_MEAN, INV_M_ZC_SD, INV_M_ZC_PTS), sig: cSig(INV_M_SIG, INV_M_SIG_Y), sigGap: 1}));
swatch(502, 381, '#fff', '#777'); txt('Empty vector', 514, 381, {size: 11.5});
swatch(602, 381, '#9f9f9f', '#666'); txt('ZC3H4(804-1303)', 615, 381, {size: 11.5});

// ======================= PANEL E =======================
txt('E', 6, 484, {size: 18});
const eLeftBase = {groupX: [0, 1], labels: E_LEFT_CATS, barW: 14, yTitle: ['Fold change', '(relative to wild type)'], titleSize: 11.5,
  tickSize: 11.5, xSize: 12, rot: 45, xTicks: false, xh: 32, cap: 3, jit: [-3, 2, -1, 3], r: 2.6, sigFont: 8.5, sigGap: 2};
const eRightBase = {groupX: [0, 1], labels: E_RIGHT_CATS, barW: 14, yTitle: ['Fold change', '(relative to control siRNA)'], titleSize: 11.5,
  tickSize: 11.5, xSize: 12.5, rot: 0, xTicks: false, xh: 24, cap: 3, jit: [-3, 2, -1, 3], r: 2.6, sigFont: 8.5, sigGap: 2};
const eLeftSeries = (m, s, p) => [{mean: m, sd: s, pts: p, off: 0, fill: ['#ffffff', '#b4b4b4'], stroke: '#6a6a6a'}];
const eRightSeries = (cm, cs, cp, wm, ws, wp, zm, zs, zp) => [
  {mean: cm, sd: cs, pts: cp, off: -0.3, fill: '#ffffff', stroke: '#6a6a6a'},
  {mean: wm, sd: ws, pts: wp, off: 0, fill: '#b9b9b9', stroke: '#666'},
  {mean: zm, sd: zs, pts: zp, off: 0.3, fill: '#6c6c6c', stroke: '#3a3a3a'}];
function eLegend(y0, dy) {
  swatch(719, y0, '#fff', '#777'); txt('si CTL', 732, y0, {size: 12.5});
  swatch(719, y0 + dy, '#b9b9b9', '#666'); txt('si Wdr82', 732, y0 + dy, {size: 12.5});
  swatch(719, y0 + 2 * dy, '#6c6c6c', '#3a3a3a'); txt('si Zc3h4', 732, y0 + 2 * dy, {size: 12.5});
}
function eLabels(x, ys, strand, br) {
  bracket(30, br[0], br[1]); txt(strand, 19, br[0] + br[1] / 2, {size: 11, rot: -90});
  ['control', 'WDR82 dep.', 'ZC3H4 dep.', 'Splice junctions', strand === '+ strand' ? '(+ strand)' : '(- strand)']
    .forEach((s, i) => txt(s, x, ys[i], {size: 11, align: 'right'}));
}

// E row 1
eLabels(103, [502, 523, 543, 560, 573], '+ strand', [492, 55]);
makeBrowser({l: 110, t: 487, r: 350, b: 623}, {
  yMin: -0.25, yMax: 6.55, x0: 2.1, x1: 100, baselines: [1, 2, 3, 4], spliceBase: 4,
  tracks: [{base: 1, sig: E1_CTRL, color: RED}, {base: 2, sig: E1_WDR, color: RED}, {base: 3, sig: E1_ZC, color: RED}],
  arcs: E1_JUNCTIONS, arcFill: 'rgba(244,120,126,0.55)', arcLine: 'rgba(236,80,88,0.7)',
  genes: E1_GENES, brackets: E1_BRACKETS, crosses: [], arrows: [[3.3, 10.4, 0.15, RED]],
  labels: [['B4GALT1', 84, 5.05], ['B4GALT1-AS', 34.6, 6.15]], labelSize: 9.5
});
makeBar({ax: 476, right: 521, yTop: 467.3, yZero: 622}, Object.assign({}, eLeftBase, {yw: 57, xMin: -1.27, xMax: 1.73, yMax: 8, yStep: 2,
  series: eLeftSeries(E1_DEL_MEAN, E1_DEL_SD, E1_DEL_PTS), sig: E1_P_LEFT, padTop: 14}));
makeBar({ax: 608, right: 711, yTop: 468, yZero: 622}, Object.assign({}, eRightBase, {yw: 61, xMin: -0.55, xMax: 1.51, yMax: 4, yStep: 1,
  series: eRightSeries(E1_CTL_MEAN, E1_CTL_SD, E1_CTL_PTS, E1_WDR_MEAN, E1_WDR_SD, E1_WDR_PTS, E1_ZC_MEAN, E1_ZC_SD, E1_ZC_PTS), sig: E1_P_RIGHT, padTop: 30}));
eLegend(503, 17);

// E row 2
eLabels(103, [682, 702, 723, 740, 753], '- strand', [671, 55]);
makeBrowser({l: 108, t: 670, r: 350, b: 824}, {
  yMin: -0.15, yMax: 7.55, x0: 2.1, x1: 100, baselines: [1, 2, 3, 4], spliceBase: 4,
  tracks: [{base: 1, sig: E2_CTRL, color: ORANGE}, {base: 2, sig: E2_WDR, color: ORANGE}, {base: 3, sig: E2_ZC, color: ORANGE}],
  arcs: E2_JUNCTIONS, arcFill: 'rgba(236,80,88,0.75)', arcLine: '#e8444f',
  genes: E2_GENES, brackets: E2_BRACKETS, crosses: [], arrows: [[93, 86.8, 0.2, ORANGE]],
  labels: [['NLRP6', 1.2, 5.75], ['PGGHG', 91, 4.75], ['PGGHG-AS', 77.3, 7.15, 'right']], labelSize: 9.5
});
makeBar({ax: 480, right: 520, yTop: 667, yZero: 821}, Object.assign({}, eLeftBase, {yw: 60, xMin: -1.07, xMax: 1.6, yMax: 6, yStep: 2,
  series: eLeftSeries(E2_DEL_MEAN, E2_DEL_SD, E2_DEL_PTS), sig: E2_P_LEFT}));
makeBar({ax: 605, right: 711, yTop: 667, yZero: 821}, Object.assign({}, eRightBase, {yw: 56, xMin: -0.62, xMax: 1.5, yMax: 30, yStep: 10,
  series: eRightSeries(E2_CTL_MEAN, E2_CTL_SD, E2_CTL_PTS, E2_WDR_MEAN, E2_WDR_SD, E2_WDR_PTS, E2_ZC_MEAN, E2_ZC_SD, E2_ZC_PTS), sig: E2_P_RIGHT, padTop: 18}));
eLegend(722, 18.5);

// E row 3
eLabels(103, [895, 916, 935, 953, 969], '- strand', [886, 56]);
makeBrowser({l: 108, t: 883, r: 350, b: 1013}, {
  yMin: -0.25, yMax: 6.25, x0: 2.1, x1: 100, baselines: [1, 2, 3, 4], spliceBase: 4,
  tracks: [{base: 1, sig: E3_CTRL, color: ORANGE}, {base: 2, sig: E3_WDR, color: ORANGE}, {base: 3, sig: E3_ZC, color: ORANGE}],
  arcs: E3_JUNCTIONS, arcFill: 'rgba(236,80,88,0.75)', arcLine: '#ee6a72',
  genes: E3_GENES, brackets: E3_BRACKETS, crosses: [], arrows: [[74, 67.8, 0.3, ORANGE]],
  labels: [['PDXK', 81.4, 4.75]], labelSize: 10
});
makeBar({ax: 480, right: 520, yTop: 864, yZero: 1018}, Object.assign({}, eLeftBase, {yw: 61, xMin: -1.03, xMax: 1.63, yMax: 25, yStep: 5,
  series: eLeftSeries(E3_DEL_MEAN, E3_DEL_SD, E3_DEL_PTS), sig: E3_P_LEFT}));
makeBar({ax: 605, right: 711, yTop: 864, yZero: 1018}, Object.assign({}, eRightBase, {yw: 56, xMin: -0.61, xMax: 1.51, yMax: 25, yStep: 5,
  series: eRightSeries(E3_CTL_MEAN, E3_CTL_SD, E3_CTL_PTS, E3_WDR_MEAN, E3_WDR_SD, E3_WDR_PTS, E3_ZC_MEAN, E3_ZC_SD, E3_ZC_PTS), sig: E3_P_RIGHT}));
eLegend(914, 18.5);
</script></body></html>
